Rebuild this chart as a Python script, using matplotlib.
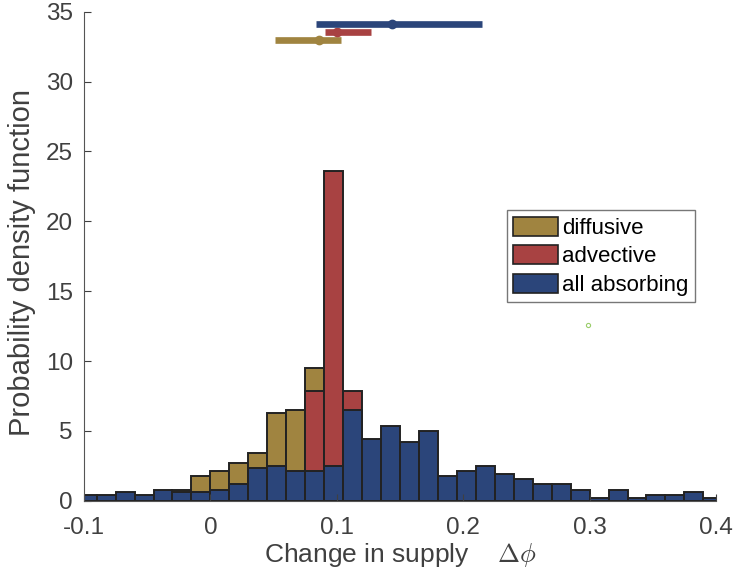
import numpy as np
import matplotlib.pyplot as plt
from matplotlib.patches import Patch

plt.rcParams['font.family'] = ['Liberation Sans', 'DejaVu Sans']
plt.rcParams['mathtext.fontset'] = 'cm'

# histogram bins (width 0.015, first and last clipped by the axis limits)
edges = np.round(np.arange(-0.105, 0.4051, 0.015), 3)

all_abs = [0.41, 0.41, 0.60, 0.41, 0.79, 0.60, 0.60, 0.79, 1.17, 2.31,
           2.50, 2.12, 2.12, 2.50, 6.50, 4.40, 5.36, 4.21, 5.00, 1.74,
           2.12, 2.50, 1.93, 1.55, 1.17, 1.17, 0.79, 0.21, 0.79, 0.21,
           0.41, 0.41, 0.60, 0.21]
diffusive = [0, 0, 0, 0, 0, 0.79, 1.74, 2.12, 2.69, 3.45,
             6.31, 6.50, 9.52, 0, 0, 0, 0, 0, 0, 0,
             0, 0, 0, 0, 0, 0, 0, 0, 0, 0,
             0, 0, 0, 0]
advective = [0, 0, 0, 0, 0, 0, 0, 0, 0, 0,
             0, 0, 7.84, 23.57, 7.84, 0, 0, 0, 0, 0,
             0, 0, 0, 0, 0, 0, 0, 0, 0, 0,
             0, 0, 0, 0]

# mean and range markers at the top
rng_y = [32.96, 33.55, 34.14]
rng_mid = [0.0857, 0.1002, 0.1434]
rng_lo = [0.0514, 0.0910, 0.0836]
rng_hi = [0.1034, 0.1270, 0.2152]

c_dif = '#A08440'
c_adv = '#A84242'
c_all = '#2B457A'
cols = [c_dif, c_adv, c_all]

fig = plt.figure(figsize=(7.33, 5.77), dpi=100)
ax = fig.add_axes([0.1146, 0.1322, 0.8622, 0.8475])

left = edges[:-1]
w = np.diff(edges)
for h, c in [(diffusive, c_dif), (advective, c_adv), (all_abs, c_all)]:
    h = np.array(h)
    m = h > 0
    ax.bar(left[m], h[m], width=w[m], align='edge', color=c,
           edgecolor='#222222', linewidth=1.4)

for y, mid, lo, hi, c in zip(rng_y, rng_mid, rng_lo, rng_hi, cols):
    ax.plot([lo, hi], [y, y], color=c, lw=4.8, solid_capstyle='butt')
    ax.plot(mid, y, 'o', color=c, ms=6)

ax.plot(0.299, 12.55, 'o', ms=3, mfc='none', mec='#9ACD6A', mew=0.8)

ax.set_xlim(-0.1, 0.4)
ax.set_ylim(0, 35)
ax.set_xticks([-0.1, 0, 0.1, 0.2, 0.3, 0.4])
ax.set_xticklabels(['-0.1', '0', '0.1', '0.2', '0.3', '0.4'])
ax.set_yticks(range(0, 36, 5))
for s in ['top', 'right']:
    ax.spines[s].set_visible(False)
for s in ['left', 'bottom']:
    ax.spines[s].set_color('#555555')
ax.tick_params(direction='in', length=5, labelsize=17.5, colors='#404040')
ax.tick_params(axis='x', pad=12)
ax.tick_params(axis='y', pad=8)
ax.set_xlabel(r'Change in supply    $\Delta\phi$', fontsize=19,
              color='#404040', labelpad=1)
ax.set_ylabel('Probability density function', fontsize=21, color='#404040')
ax.yaxis.set_label_coords(-0.076, 0.487)

handles = [Patch(facecolor=c, edgecolor='#222222', lw=1.2) for c in cols]
leg = ax.legend(handles, ['diffusive', 'advective', 'all absorbing'],
                loc='upper left', bbox_to_anchor=(0.669, 0.5945),
                borderaxespad=0, fontsize=16, fancybox=False,
                edgecolor='#555555', handlelength=2.0, handleheight=0.95,
                handletextpad=0.2, labelspacing=0.28, borderpad=0.3)
leg.get_frame().set_linewidth(1.0)

fig.savefig('out.png', dpi=100)
